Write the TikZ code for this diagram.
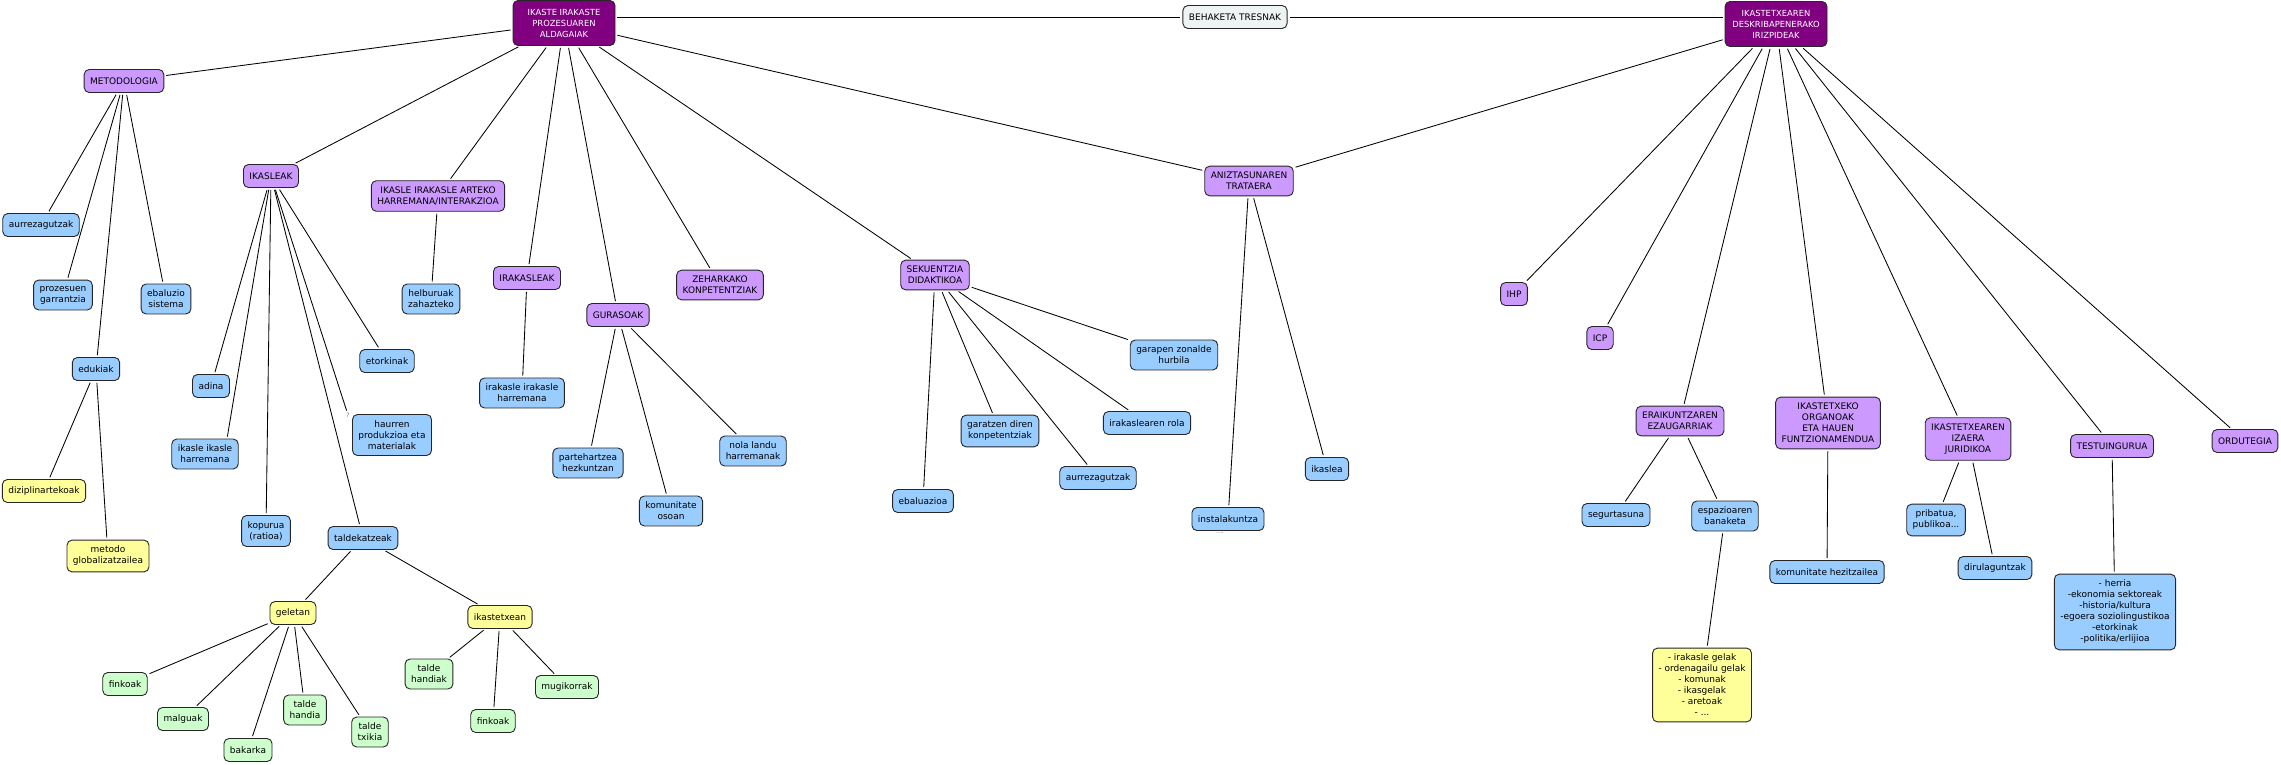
\documentclass[tikz,border=0pt]{standalone}
\usepackage{fontspec}
\setmainfont{DejaVu Sans}
\definecolor{cmpurple}{RGB}{128,0,128}
\definecolor{cmlila}{RGB}{204,153,255}
\definecolor{cmblue}{RGB}{153,204,255}
\definecolor{cmyellow}{RGB}{255,255,153}
\definecolor{cmgreen}{RGB}{204,255,204}
\definecolor{cmgrey}{RGB}{238,243,243}
\begin{document}
\begin{tikzpicture}[x=1pt,y=-1pt]
	\tikzset{
		box/.style={draw=black!85, line width=0.9pt, rounded corners=5pt, align=center,
				inner xsep=6pt, inner ysep=6pt, minimum height=23pt, font=\fontsize{9}{11}\selectfont},
		mainbox/.style={box, fill=cmpurple, text=white, minimum width=102pt, minimum height=45pt,
				font=\fontsize{8.4}{11}\selectfont},
		lilabox/.style={box, fill=cmlila},
		bluebox/.style={box, fill=cmblue},
		yellowbox/.style={box, fill=cmyellow},
		greenbox/.style={box, fill=cmgreen},
		toolbox/.style={box, fill=cmgrey},
		tinytext/.style={inner sep=0pt, text=black!55, font=\fontsize{6}{6}\selectfont},
		link/.style={line width=0.85pt, shorten >=2pt, shorten <=2pt},
	}
	\fill[white] (0,0) rectangle (2281,764);
	\useasboundingbox (0,0) rectangle (2281,764);

	\node[mainbox] (m1) at (564,23) {IKASTE IRAKASTE\\PROZESUAREN\\ALDAGAIAK};
	\node[mainbox] (m2) at (1776,24) {IKASTETXEAREN\\DESKRIBAPENERAKO\\IRIZPIDEAK};
	\node[toolbox] (beh) at (1235,17) {BEHAKETA TRESNAK};

	\node[lilabox] (metod) at (124,81) {METODOLOGIA};
	\node[lilabox] (ikasleak) at (271,176) {IKASLEAK};
	\node[lilabox] (artekoa) at (438,196) {IKASLE IRAKASLE ARTEKO\\HARREMANA/INTERAKZIOA};
	\node[lilabox] (irakasleak) at (527,278) {IRAKASLEAK};
	\node[lilabox] (gurasoak) at (618,315) {GURASOAK};
	\node[lilabox] (zeharkako) at (720,285) {ZEHARKAKO\\KONPETENTZIAK};
	\node[lilabox] (sekuentzia) at (935,275) {SEKUENTZIA\\DIDAKTIKOA};
	\node[lilabox] (anizt) at (1249,181) {ANIZTASUNAREN\\TRATAERA};
	\node[lilabox] (ihp) at (1514,294) {IHP};
	\node[lilabox] (icp) at (1600,338) {ICP};
	\node[lilabox] (eraik) at (1680,421) {ERAIKUNTZAREN\\EZAUGARRIAK};
	\node[lilabox] (organoak) at (1828,423) {IKASTETXEKO\\ORGANOAK\\ETA HAUEN\\FUNTZIONAMENDUA};
	\node[lilabox] (izaera) at (1968,439) {IKASTETXEAREN\\IZAERA\\JURIDIKOA};
	\node[lilabox] (testu) at (2112,446) {TESTUINGURUA};
	\node[lilabox] (ordu) at (2245,441) {ORDUTEGIA};

	\node[bluebox] (aurrez1) at (41,225) {aurrezagutzak};
	\node[bluebox] (prozesuen) at (63,295) {prozesuen\\garrantzia};
	\node[bluebox] (ebaluzio) at (166,299) {ebaluzio\\sistema};
	\node[bluebox] (edukiak) at (96,369) {edukiak};
	\node[yellowbox] (dizip) at (44,491) {diziplinartekoak};
	\node[yellowbox] (metodo) at (108,556) {metodo\\globalizatzailea};

	\node[bluebox] (adina) at (211,386) {adina};
	\node[bluebox] (ikikharr) at (205,454) {ikasle ikasle\\harremana};
	\node[bluebox] (kopurua) at (266,531) {kopurua\\(ratioa)};
	\node[bluebox] (taldek) at (363,538) {taldekatzeak};
	\node[bluebox] (haurren) at (392,435) {haurren\\produkzioa eta\\materialak};
	\node[tinytext] (qmark) at (348,415) {?};
	\node[bluebox] (etorkinak) at (387,361) {etorkinak};
	\node[yellowbox] (geletan) at (293,613) {geletan};
	\node[yellowbox] (ikastetxean) at (500,617) {ikastetxean};
	\node[greenbox] (finkoa) at (125,684) {finkoak};
	\node[greenbox] (malguak) at (183,719) {malguak};
	\node[greenbox] (bakarka) at (248,750) {bakarka};
	\node[greenbox] (thandia) at (305,710) {talde\\handia};
	\node[greenbox] (ttxikia) at (370,732) {talde\\txikia};
	\node[greenbox] (thandiak) at (429,674) {talde\\handiak};
	\node[greenbox] (finkob) at (493,721) {finkoak};
	\node[greenbox] (mugik) at (567,687) {mugikorrak};

	\node[bluebox] (helburuak) at (431,299) {helburuak\\zahazteko};
	\node[bluebox] (irirharr) at (522,393) {irakasle irakasle\\harremana};
	\node[bluebox] (parteh) at (588,463) {partehartzea\\hezkuntzan};
	\node[bluebox] (komosoan) at (671,511) {komunitate\\osoan};
	\node[bluebox] (nolalandu) at (753,451) {nola landu\\harremanak};

	\node[bluebox] (ebaluazioa) at (923,501) {ebaluazioa};
	\node[bluebox] (garatzen) at (1000,431) {garatzen diren\\konpetentziak};
	\node[bluebox] (aurrez2) at (1098,478) {aurrezagutzak};
	\node[bluebox] (irakrola) at (1147,423) {irakaslearen rola};
	\node[bluebox] (garapen) at (1174,355) {garapen zonalde\\hurbila};
	\node[bluebox] (instal) at (1228,519) {instalakuntza};
	\node[tinytext] (dots) at (1220,533) {....};
	\node[bluebox] (ikaslea) at (1327,469) {ikaslea};

	\node[bluebox] (segur) at (1616,515) {segurtasuna};
	\node[bluebox] (espazio) at (1725,516) {espazioaren\\banaketa};
	\node[yellowbox] (gelak) at (1702,685) {- irakasle gelak\\- ordenagailu gelak\\- komunak\\- ikasgelak\\- aretoak\\- ...};
	\node[bluebox] (komhez) at (1827,572) {komunitate hezitzailea};
	\node[bluebox] (pribatua) at (1936,520) {pribatua,\\publikoa...};
	\node[bluebox] (dirul) at (1995,568) {dirulaguntzak};
	\node[bluebox] (herria) at (2115,612) {- herria\\-ekonomia sektoreak\\-historia/kultura\\-egoera soziolingustikoa\\-etorkinak\\-politika/erlijioa};

	\draw[link] (m1.east |- beh.west) -- (beh.west);
	\draw[link] (beh.east) -- (m2.west |- beh.east);
	\foreach \a/\b in {m1/metod, m1/ikasleak, m1/artekoa, m1/irakasleak, m1/gurasoak,
			m1/zeharkako, m1/sekuentzia, m1/anizt,
			m2/anizt, m2/ihp, m2/icp, m2/eraik, m2/organoak, m2/izaera, m2/testu, m2/ordu,
			metod/aurrez1, metod/prozesuen, metod/edukiak, metod/ebaluzio,
			edukiak/dizip, edukiak/metodo,
			ikasleak/adina, ikasleak/ikikharr.35, ikasleak/kopurua, ikasleak/taldek,
			ikasleak/qmark, ikasleak/etorkinak,
			taldek/geletan, taldek/ikastetxean,
			geletan/finkoa, geletan/malguak, geletan/bakarka, geletan/thandia, geletan/ttxikia,
			ikastetxean/thandiak, ikastetxean/finkob, ikastetxean/mugik,
			artekoa/helburuak, irakasleak/irirharr,
			gurasoak/parteh, gurasoak/komosoan, gurasoak/nolalandu,
			sekuentzia/ebaluazioa, sekuentzia/garatzen, sekuentzia/aurrez2,
			sekuentzia/irakrola, sekuentzia/garapen,
			anizt/instal, anizt/ikaslea,
			eraik/segur, eraik/espazio, espazio/gelak,
			organoak/komhez, izaera/pribatua, izaera/dirul, testu/herria}
		{\draw[link] (\a) -- (\b);}
\end{tikzpicture}
\end{document}
